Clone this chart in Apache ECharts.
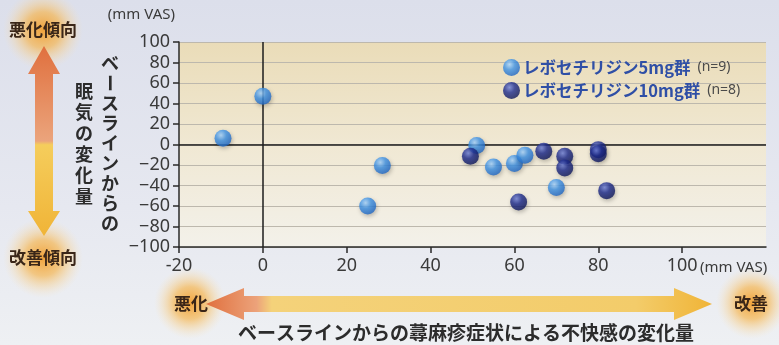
<!DOCTYPE html>
<html><head><meta charset="utf-8">
<script src="https://cdn.jsdelivr.net/npm/echarts@6/dist/echarts.min.js"></script>
<style>html,body{margin:0;padding:0;background:#e4e6ee;}#c{width:779px;height:345px;}</style>
</head><body><div id="c"></div>
<script>
// ---- data ----
const seriesNames = ['レボセチリジン5mg群', 'レボセチリジン10mg群'];
const seriesN = ['(n=9)', '(n=8)'];
const dose5X = [-9.5, 0, 28.5, 25, 51, 55, 60, 62.5, 70];
const dose5Y = [6, 47, -20.5, -60, -1, -22, -18.5, -10.5, -42];
const dose10X = [49.5, 67, 72, 72, 80, 80, 61, 82];
const dose10Y = [-11.5, -6.5, -11.5, -23, -5, -9, -56, -45];
const xTickValues = [-20, 0, 20, 40, 60, 80, 100];
const yTitle1 = 'ベースラインからの';
const yTitle2 = '眠気の変化量';
const xTitle = 'ベースラインからの蕁麻疹症状による不快感の変化量';

const pairs = (xs, ys) => xs.map((x, i) => [x, ys[i]]);
const jp = '"Noto Sans CJK JP", sans-serif';
const num = '"Noto Sans", "Open Sans", sans-serif';

function halo(cx, cy, r) {
  return { type: 'circle', shape: { cx, cy, r }, z: 0, silent: true,
    style: { fill: { type: 'radial', x: 0.5, y: 0.5, r: 0.5, colorStops: [
      { offset: 0, color: 'rgba(242,155,40,0.9)' },
      { offset: 0.45, color: 'rgba(246,178,70,0.65)' },
      { offset: 0.75, color: 'rgba(249,205,130,0.3)' },
      { offset: 1, color: 'rgba(250,225,180,0)' }] } } };
}
function vtext(str, cx, y0, step) {
  return str.split('').map((ch, i) => {
    const el = { type: 'text', x: cx, y: y0 + i * step, z: 5,
      style: { text: ch, font: 'bold 18px ' + jp, fill: '#2c2c2c', align: 'center', verticalAlign: 'middle' } };
    if (ch === 'ー') { el.rotation = -Math.PI / 2; el.originX = 0; el.originY = 0; }
    return el;
  });
}
const sphere = (hi, mid, lo) => ({ type: 'radial', x: 0.38, y: 0.32, r: 0.7, colorStops: [
  { offset: 0, color: hi }, { offset: 0.45, color: mid }, { offset: 1, color: lo }] });

const graphics = [
  halo(43, 30, 40), halo(43, 258, 40), halo(190, 303, 36), halo(752, 303, 36),
  { type: 'polygon', z: 1, silent: true,
    shape: { points: [[44, 46], [60, 74], [53, 74], [53, 211], [60, 211], [44, 236], [28, 211], [35, 211], [35, 74], [28, 74]] },
    style: { fill: { type: 'linear', x: 0, y: 0, x2: 0, y2: 1, colorStops: [
      { offset: 0, color: '#e0703e' }, { offset: 0.5, color: '#eba47c' },
      { offset: 0.52, color: '#f5cd5c' }, { offset: 1, color: '#f0b437' }] } } },
  { type: 'polygon', z: 1, silent: true,
    shape: { points: [[206, 304], [244, 288], [244, 296], [674, 296], [674, 288], [712, 304], [674, 320], [674, 312], [244, 312], [244, 320]] },
    style: { fill: { type: 'linear', x: 0, y: 0, x2: 1, y2: 0, colorStops: [
      { offset: 0, color: '#e0703e' }, { offset: 0.1, color: '#eca27a' },
      { offset: 0.13, color: '#f4d27a' }, { offset: 0.85, color: '#f3cc6a' }, { offset: 1, color: '#f0b437' }] } } },
  { type: 'text', x: 43, y: 30, z: 5, style: { text: '悪化傾向', font: 'bold 17px ' + jp, fill: '#3a2618', align: 'center', verticalAlign: 'middle' } },
  { type: 'text', x: 43, y: 258, z: 5, style: { text: '改善傾向', font: 'bold 17px ' + jp, fill: '#3a2618', align: 'center', verticalAlign: 'middle' } },
  { type: 'text', x: 191, y: 304, z: 5, style: { text: '悪化', font: 'bold 17px ' + jp, fill: '#3a2618', align: 'center', verticalAlign: 'middle' } },
  { type: 'text', x: 751, y: 304, z: 5, style: { text: '改善', font: 'bold 17px ' + jp, fill: '#3a2618', align: 'center', verticalAlign: 'middle' } },
  { type: 'text', x: 466, y: 333, z: 5, style: { text: xTitle, font: 'bold 19px ' + jp, fill: '#2c2c2c', align: 'center', verticalAlign: 'middle' } },
  { type: 'text', x: 175, y: 15, z: 5, style: { text: '(mm VAS)', font: '15px ' + num, fill: '#3a3a3a', align: 'right', verticalAlign: 'middle' } },
  { type: 'text', x: 700, y: 268, z: 5, style: { text: '(mm VAS)', font: '15px ' + num, fill: '#3a3a3a', align: 'left', verticalAlign: 'middle' } }
].concat(vtext(yTitle1, 110, 63, 20)).concat(vtext(yTitle2, 84, 91, 21));

const chart = echarts.init(document.getElementById('c'), null, { renderer: 'canvas' });
chart.setOption({
  animation: false,
  backgroundColor: { type: 'linear', x: 0, y: 0, x2: 0, y2: 1, colorStops: [
    { offset: 0, color: '#dcdfeb' }, { offset: 0.6, color: '#e6e8f0' }, { offset: 1, color: '#eef0f3' }] },
  grid: { left: 179, right: 13, top: 42, bottom: 98, show: true, borderWidth: 0, z: 0,
    backgroundColor: { type: 'linear', x: 0, y: 0, x2: 0, y2: 1, colorStops: [
      { offset: 0, color: '#eadcb8' }, { offset: 0.5, color: '#f0e8d3' }, { offset: 1, color: '#f3f1ea' }] } },
  legend: {
    orient: 'vertical', left: 498, top: 54, itemGap: 6, itemWidth: 17, itemHeight: 17, icon: 'circle',
    data: seriesNames,
    formatter: name => '{a|' + name + '}{b|' + seriesN[seriesNames.indexOf(name)] + '}',
    textStyle: { padding: [0, 0, 0, -2], rich: {
      a: { fontFamily: jp, fontWeight: 'bold', fontSize: 16.5, color: '#2f4fa6' },
      b: { fontFamily: num, fontSize: 14, color: '#4a4a4a', padding: [0, 0, 0, 7] } } }
  },
  xAxis: {
    type: 'value', min: -20, max: 120, interval: 20,
    axisLine: { show: true, onZero: false, lineStyle: { color: '#2a2a2a', width: 1.5 } },
    axisTick: { show: true, length: 6, customValues: xTickValues, lineStyle: { color: '#2a2a2a', width: 1.5 } },
    axisLabel: { customValues: xTickValues, margin: 10, fontFamily: num, fontSize: 18, color: '#3a3a3a' },
    splitLine: { show: false }
  },
  yAxis: {
    type: 'value', min: -100, max: 100, interval: 20,
    axisLine: { show: true, onZero: false, lineStyle: { color: '#2a2a2a', width: 1.5 } },
    axisTick: { show: true, length: 6, lineStyle: { color: '#2a2a2a', width: 1.5 } },
    axisLabel: { margin: 9, fontFamily: num, fontSize: 18, color: '#3a3a3a',
      formatter: v => (v < 0 ? '−' + Math.abs(v) : String(v)) },
    splitLine: { show: true, lineStyle: { color: '#bdb8ad', width: 1.2 } }
  },
  series: [
    { name: seriesNames[0], type: 'scatter', data: pairs(dose5X, dose5Y), symbolSize: 17, z: 4,
      itemStyle: { color: sphere('#a9d6ff', '#3f93e6', '#1e66c4'), shadowBlur: 4, shadowColor: 'rgba(0,0,0,0.3)', shadowOffsetX: 1, shadowOffsetY: 2 },
      markLine: { silent: true, symbol: 'none', label: { show: false }, z: 3,
        lineStyle: { color: '#1c1c1c', width: 1.5, type: 'solid' },
        data: [{ xAxis: 0 }, { yAxis: 0 }] } },
    { name: seriesNames[1], type: 'scatter', data: pairs(dose10X, dose10Y), symbolSize: 17, z: 4,
      itemStyle: { color: sphere('#6d7fd8', '#1e2c8e', '#0e175a'), shadowBlur: 4, shadowColor: 'rgba(0,0,0,0.3)', shadowOffsetX: 1, shadowOffsetY: 2 } }
  ],
  graphic: graphics
});
</script></body></html>
